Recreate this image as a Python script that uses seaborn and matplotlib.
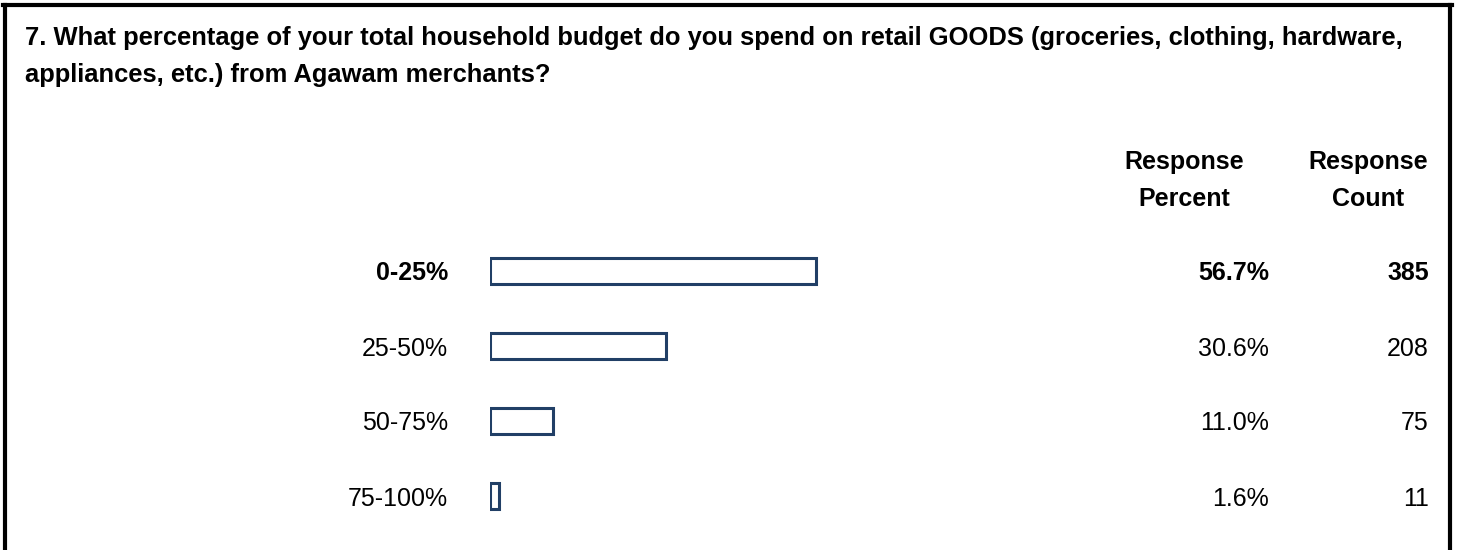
import matplotlib
matplotlib.use('Agg')
import matplotlib.pyplot as plt
import matplotlib.transforms as mtransforms
from matplotlib.lines import Line2D
import seaborn as sns

# Data
categories = ['0-25%', '25-50%', '50-75%', '75-100%']
response_percent = [56.7, 30.6, 11.0, 1.6]
response_count = [385, 208, 75, 11]
title_lines = [
    '7. What percentage of your total household budget do you spend on retail GOODS (groceries, clothing, hardware,',
    'appliances, etc.) from Agawam merchants?',
]

W, H = 1458, 550
BAR_COLOR = '#213f66'
FONT = 'Liberation Sans'
FS = 18


def fx(x):
    return x / W


def fy(y):
    return 1 - y / H


sns.set_style('white')
plt.rcParams['font.family'] = [FONT, 'DejaVu Sans']
plt.rcParams['text.color'] = 'black'
plt.rcParams['ytick.color'] = 'black'

fig = plt.figure(figsize=(W / 100, H / 100), dpi=100)

# bar axes: 100% spans ~576 px, rows 75 px apart
ax = fig.add_axes([fx(489.5), fy(533.5), 576 / W, 300 / H])
sns.barplot(x=response_percent, y=categories, orient='h', ax=ax,
            color='white', edgecolor=BAR_COLOR, linewidth=2.2, width=0.35)
ax.set_xlim(0, 100)
ax.set_ylim(3.5, -0.5)
ax.set_xticks([])
ax.set_xlabel('')
ax.set_ylabel('')
for s in ax.spines.values():
    s.set_visible(False)
ax.tick_params(axis='y', length=0, pad=29.9, labelsize=FS, labelcolor='black')
for i, lab in enumerate(ax.get_yticklabels()):
    if i == 0:
        lab.set_fontweight('bold')

# value columns
trans = mtransforms.blended_transform_factory(fig.transFigure, ax.transData)
for i, (p, c) in enumerate(zip(response_percent, response_count)):
    w = 'bold' if i == 0 else 'normal'
    ax.text(fx(1269), i, f'{p:.1f}%', transform=trans, ha='right', va='center_baseline',
            fontsize=FS, fontweight=w, color='black')
    ax.text(fx(1429), i, f'{c}', transform=trans, ha='right', va='center_baseline',
            fontsize=FS, fontweight=w, color='black')

# column headers
for x, words in [(1184, ('Response', 'Percent')), (1368, ('Response', 'Count'))]:
    fig.text(fx(x), fy(169), words[0], ha='center', va='baseline',
             fontsize=FS, fontweight='bold', color='black')
    fig.text(fx(x), fy(206), words[1], ha='center', va='baseline',
             fontsize=FS, fontweight='bold', color='black')

# question title
fig.text(fx(25), fy(45), title_lines[0], ha='left', va='baseline',
         fontsize=18.4, fontweight='bold', color='black')
fig.text(fx(25), fy(82), title_lines[1], ha='left', va='baseline',
         fontsize=18.4, fontweight='bold', color='black')

# frame (left, top, right; bottom is cut off)
for xs, ys in [([5, 5], [5, 560]), ([3, 1452], [5, 5]), ([1450, 1450], [5, 560])]:
    fig.add_artist(Line2D([fx(v) for v in xs], [fy(v) for v in ys],
                          transform=fig.transFigure, color='black', linewidth=3.0,
                          solid_capstyle='projecting'))

fig.savefig('out.png', dpi=100)
